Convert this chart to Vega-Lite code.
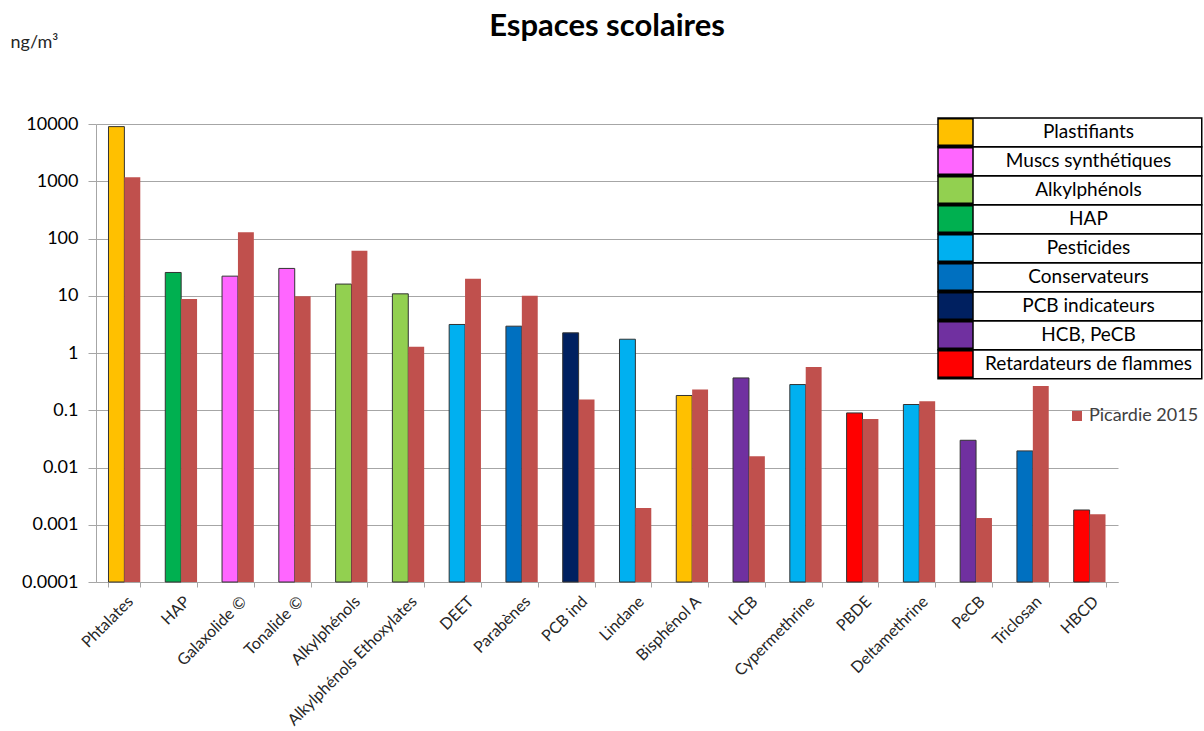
{
  "$schema": "https://vega.github.io/schema/vega-lite/v6.json",
  "autosize": "none",
  "width": 1022,
  "height": 458,
  "padding": {"left": 96, "top": 124, "right": 86, "bottom": 149},
  "background": "white",
  "title": {
    "text": "Espaces scolaires",
    "font": "Lato",
    "fontSize": 31,
    "fontWeight": "bold",
    "color": "#000000",
    "anchor": "middle",
    "frame": "group",
    "offset": -10
  },
  "config": {
    "view": {"stroke": null},
    "axis": {
      "labelFont": "Lato",
      "titleFont": "Lato",
      "domainColor": "#a6a6a6",
      "tickColor": "#a6a6a6",
      "gridColor": "#a6a6a6"
    }
  },
  "data": {
    "values": [
      {"substance": "Phtalates", "famille": "Plastifiants", "serie": "Espaces scolaires", "valeur": 9000},
      {"substance": "Phtalates", "famille": "Plastifiants", "serie": "Picardie 2015", "valeur": 1170},
      {"substance": "HAP", "famille": "HAP", "serie": "Espaces scolaires", "valeur": 25.5},
      {"substance": "HAP", "famille": "HAP", "serie": "Picardie 2015", "valeur": 8.8},
      {"substance": "Galaxolide ©", "famille": "Muscs synthétiques", "serie": "Espaces scolaires", "valeur": 22},
      {"substance": "Galaxolide ©", "famille": "Muscs synthétiques", "serie": "Picardie 2015", "valeur": 129},
      {"substance": "Tonalide ©", "famille": "Muscs synthétiques", "serie": "Espaces scolaires", "valeur": 30},
      {"substance": "Tonalide ©", "famille": "Muscs synthétiques", "serie": "Picardie 2015", "valeur": 9.8},
      {"substance": "Alkylphénols", "famille": "Alkylphénols", "serie": "Espaces scolaires", "valeur": 16},
      {"substance": "Alkylphénols", "famille": "Alkylphénols", "serie": "Picardie 2015", "valeur": 61},
      {"substance": "Alkylphénols Ethoxylates", "famille": "Alkylphénols", "serie": "Espaces scolaires", "valeur": 10.8},
      {"substance": "Alkylphénols Ethoxylates", "famille": "Alkylphénols", "serie": "Picardie 2015", "valeur": 1.28},
      {"substance": "DEET", "famille": "Pesticides", "serie": "Espaces scolaires", "valeur": 3.15},
      {"substance": "DEET", "famille": "Pesticides", "serie": "Picardie 2015", "valeur": 19.8},
      {"substance": "Parabènes", "famille": "Conservateurs", "serie": "Espaces scolaires", "valeur": 2.94},
      {"substance": "Parabènes", "famille": "Conservateurs", "serie": "Picardie 2015", "valeur": 10},
      {"substance": "PCB ind", "famille": "PCB indicateurs", "serie": "Espaces scolaires", "valeur": 2.25},
      {"substance": "PCB ind", "famille": "PCB indicateurs", "serie": "Picardie 2015", "valeur": 0.154},
      {"substance": "Lindane", "famille": "Pesticides", "serie": "Espaces scolaires", "valeur": 1.74},
      {"substance": "Lindane", "famille": "Pesticides", "serie": "Picardie 2015", "valeur": 0.00196},
      {"substance": "Bisphénol A", "famille": "Plastifiants", "serie": "Espaces scolaires", "valeur": 0.181},
      {"substance": "Bisphénol A", "famille": "Plastifiants", "serie": "Picardie 2015", "valeur": 0.23},
      {"substance": "HCB", "famille": "HCB, PeCB", "serie": "Espaces scolaires", "valeur": 0.367},
      {"substance": "HCB", "famille": "HCB, PeCB", "serie": "Picardie 2015", "valeur": 0.0157},
      {"substance": "Cypermethrine", "famille": "Pesticides", "serie": "Espaces scolaires", "valeur": 0.281},
      {"substance": "Cypermethrine", "famille": "Pesticides", "serie": "Picardie 2015", "valeur": 0.571},
      {"substance": "PBDE", "famille": "Retardateurs de flammes", "serie": "Espaces scolaires", "valeur": 0.0898},
      {"substance": "PBDE", "famille": "Retardateurs de flammes", "serie": "Picardie 2015", "valeur": 0.0705},
      {"substance": "Deltamethrine", "famille": "Pesticides", "serie": "Espaces scolaires", "valeur": 0.126},
      {"substance": "Deltamethrine", "famille": "Pesticides", "serie": "Picardie 2015", "valeur": 0.144},
      {"substance": "PeCB", "famille": "HCB, PeCB", "serie": "Espaces scolaires", "valeur": 0.0299},
      {"substance": "PeCB", "famille": "HCB, PeCB", "serie": "Picardie 2015", "valeur": 0.00131},
      {"substance": "Triclosan", "famille": "Conservateurs", "serie": "Espaces scolaires", "valeur": 0.0195},
      {"substance": "Triclosan", "famille": "Conservateurs", "serie": "Picardie 2015", "valeur": 0.266},
      {"substance": "HBCD", "famille": "Retardateurs de flammes", "serie": "Espaces scolaires", "valeur": 0.00181},
      {"substance": "HBCD", "famille": "Retardateurs de flammes", "serie": "Picardie 2015", "valeur": 0.00152}
    ]
  },
  "encoding": {
    "x": {
      "field": "substance",
      "type": "nominal",
      "sort": ["Phtalates", "HAP", "Galaxolide ©", "Tonalide ©", "Alkylphénols", "Alkylphénols Ethoxylates", "DEET", "Parabènes", "PCB ind", "Lindane", "Bisphénol A", "HCB", "Cypermethrine", "PBDE", "Deltamethrine", "PeCB", "Triclosan", "HBCD"],
      "scale": {"paddingInner": 0.44, "paddingOuter": 0.22},
      "axis": {
        "title": null,
        "tickBand": "extent",
        "labelAngle": -45,
        "labelFontSize": 16,
        "labelColor": "#262626",
        "labelPadding": 6,
        "labelLimit": 320,
        "tickSize": 5,
        "grid": false
      }
    },
    "xOffset": {
      "field": "serie",
      "type": "nominal",
      "scale": {"domain": ["Espaces scolaires", "Picardie 2015"], "paddingInner": 0, "paddingOuter": 0}
    },
    "y": {
      "field": "valeur",
      "type": "quantitative",
      "scale": {"type": "log", "domain": [0.0001, 10000], "nice": false},
      "axis": {
        "values": [0.0001, 0.001, 0.01, 0.1, 1, 10, 100, 1000, 10000],
        "format": "~g",
        "title": "ng/m³",
        "titleAngle": 0,
        "titleX": -86,
        "titleY": -77,
        "titleAlign": "left",
        "titleBaseline": "alphabetic",
        "titleFontWeight": "normal",
        "titleFontSize": 18,
        "titleColor": "#262626",
        "labelFontSize": 18,
        "labelColor": "#000000",
        "labelPadding": 10,
        "tickSize": 8,
        "grid": true
      }
    },
    "y2": {"datum": 0.0001}
  },
  "layer": [
    {
      "transform": [{"filter": "datum.serie === 'Espaces scolaires'"}],
      "mark": {"type": "bar", "stroke": "#333333", "strokeWidth": 1},
      "encoding": {
        "fill": {
          "field": "famille",
          "type": "nominal",
          "scale": {
            "domain": ["Plastifiants", "Muscs synthétiques", "Alkylphénols", "HAP", "Pesticides", "Conservateurs", "PCB indicateurs", "HCB, PeCB", "Retardateurs de flammes"],
            "range": ["#FFC000", "#FF66FF", "#92D050", "#00B050", "#00B0F0", "#0070C0", "#002060", "#7030A0", "#FF0000"]
          },
          "legend": {
            "title": null,
            "orient": "none",
            "legendX": 842,
            "legendY": -6,
            "padding": 0,
            "rowPadding": -3,
            "clipHeight": 27.9,
            "symbolType": "M-1.326,-1H1.326V1H-1.326Z",
            "symbolSize": 697,
            "symbolStrokeWidth": 1.5,
            "symbolStrokeColor": "#000000",
            "symbolOffset": 3.5,
            "symbolOpacity": 1,
            "labelFont": "Lato",
            "labelFontSize": 19,
            "labelColor": "#000000",
            "labelAlign": "center",
            "labelOffset": 119,
            "labelLimit": 300,
            "encode": {
              "symbols": {"update": {"stroke": {"value": "#000000"}, "strokeWidth": {"value": 1.5}, "opacity": {"value": 1}}},
              "entries": {"update": {"width": {"value": 263}, "height": {"value": 27.9}, "fill": {"value": "#ffffff"}, "stroke": {"value": "#000000"}, "strokeWidth": {"value": 1.5}}}
            }
          }
        }
      }
    },
    {
      "transform": [{"filter": "datum.serie === 'Picardie 2015'"}],
      "mark": {"type": "bar"},
      "encoding": {
        "fill": {
          "field": "serie",
          "type": "nominal",
          "scale": {"domain": ["Picardie 2015"], "range": ["#C0504D"]},
          "legend": {
            "title": null,
            "orient": "none",
            "legendX": 972,
            "legendY": 283,
            "padding": 0,
            "symbolType": "square",
            "symbolSize": 100,
            "symbolStrokeWidth": 0,
            "labelFont": "Lato",
            "labelFontSize": 18,
            "labelColor": "#404040",
            "labelOffset": 3
          }
        }
      }
    }
  ],
  "resolve": {"scale": {"fill": "independent"}}
}
